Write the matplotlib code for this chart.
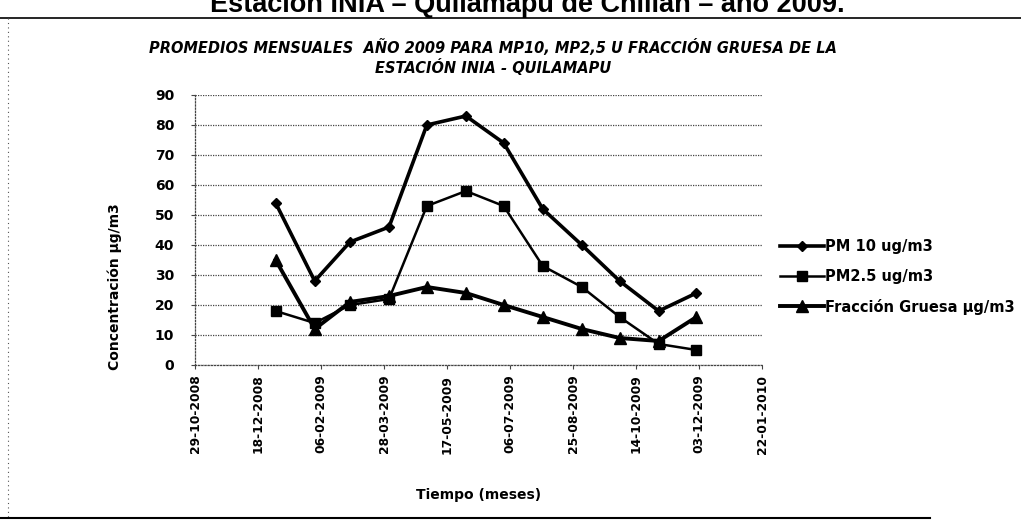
import matplotlib
matplotlib.use("Agg")
import matplotlib.pyplot as plt
import matplotlib.dates as mdates
from matplotlib.lines import Line2D
import pandas as pd

# promedios mensuales 2009 (ug/m3)
fechas = ['2009-01-01', '2009-02-01', '2009-03-01', '2009-04-01', '2009-05-01', '2009-06-01',
          '2009-07-01', '2009-08-01', '2009-09-01', '2009-10-01', '2009-11-01', '2009-12-01']
pm10 = [54, 28, 41, 46, 80, 83, 74, 52, 40, 28, 18, 24]
pm25 = [18, 14, 20, 22, 53, 58, 53, 33, 26, 16, 7, 5]
gruesa = [35, 12, 21, 23, 26, 24, 20, 16, 12, 9, 8, 16]

tick_fechas = ['2008-10-29', '2008-12-18', '2009-02-06', '2009-03-28', '2009-05-17',
               '2009-07-06', '2009-08-25', '2009-10-14', '2009-12-03', '2010-01-22']
y_ticks = [0, 10, 20, 30, 40, 50, 60, 70, 80, 90]

W, H = 1021, 527
fig = plt.figure(figsize=(W / 100, H / 100), dpi=100)
fig.patch.set_facecolor('white')

x = pd.to_datetime(fechas)
xt = pd.to_datetime(tick_fechas)

# plot area in pixels: x 195..762, y 95..365
ax = fig.add_axes([195 / W, 1 - 365 / H, 567 / W, 270 / H])

ax.plot(x, pm10, color='black', lw=2.6, marker='D', ms=5, label='PM 10 ug/m3')
ax.plot(x, pm25, color='black', lw=1.8, marker='s', ms=7, label='PM2.5 ug/m3')
ax.plot(x, gruesa, color='black', lw=2.8, marker='^', ms=8, label='Fracción Gruesa μg/m3')

ax.set_xlim(xt[0], xt[-1])
ax.set_ylim(0, 90)
ax.set_xticks(xt)
ax.xaxis.set_major_formatter(mdates.DateFormatter('%d-%m-%Y'))
ax.set_yticks(y_ticks)

ax.yaxis.grid(True, linestyle=(0, (1, 1)), color='#444444', lw=0.9)
for s in ['top', 'right']:
    ax.spines[s].set_visible(False)
for s in ['left', 'bottom']:
    ax.spines[s].set_linestyle((0, (1, 1.5)))
    ax.spines[s].set_color('#444444')
    ax.spines[s].set_linewidth(0.9)

ax.tick_params(axis='x', length=3, color='#444444', pad=4)
ax.tick_params(axis='y', length=3, color='#444444', pad=12)
for lbl in ax.get_xticklabels():
    lbl.set_rotation(90)
    lbl.set_fontsize(8.8)
    lbl.set_fontweight('bold')
for lbl in ax.get_yticklabels():
    lbl.set_fontsize(10)
    lbl.set_fontweight('bold')

ax.set_ylabel('Concentración μg/m3', fontsize=10, fontweight='bold')
ax.yaxis.set_label_coords((122 - 195) / 567, (365 - 287) / 270)
ax.set_xlabel('Tiempo (meses)', fontsize=10, fontweight='bold')
ax.xaxis.set_label_coords(0.5, -(488 - 365) / 270)

ax.set_title('PROMEDIOS MENSUALES  AÑO 2009 PARA MP10, MP2,5 U FRACCIÓN GRUESA DE LA\n'
             'ESTACIÓN INIA - QUILAMAPU', fontsize=10.5, fontweight='bold', style='italic',
             x=(493 - 195) / 567, y=1.0, pad=16, linespacing=1.2)

ax.legend(loc='center left', bbox_to_anchor=(780 / W, 1 - 277 / H), bbox_transform=fig.transFigure,
          frameon=False, handlelength=3.0, handletextpad=0.1, labelspacing=1.0,
          prop={'size': 10.5, 'weight': 'bold'}, borderpad=0, borderaxespad=0)

# encabezado del documento (cortado arriba en el escaneo) y bordes
fig.text(527 / W, 1 - 12 / H, 'Estación INIA – Quilamapu de Chillán – año 2009.',
         ha='center', va='baseline', fontsize=19.5, fontweight='bold', family='Liberation Sans')
fig.add_artist(Line2D([0, 1], [1 - 18 / H, 1 - 18 / H], transform=fig.transFigure,
                      color='black', lw=1.2))
fig.add_artist(Line2D([8 / W, 8 / W], [1 - 18 / H, 1 - 518 / H], transform=fig.transFigure,
                      color='#555555', lw=0.8, linestyle=(0, (1, 3))))
fig.add_artist(Line2D([0, 930 / W], [1 - 518 / H, 1 - 518 / H], transform=fig.transFigure,
                      color='black', lw=1.5))

fig.savefig('out.png', dpi=100)
